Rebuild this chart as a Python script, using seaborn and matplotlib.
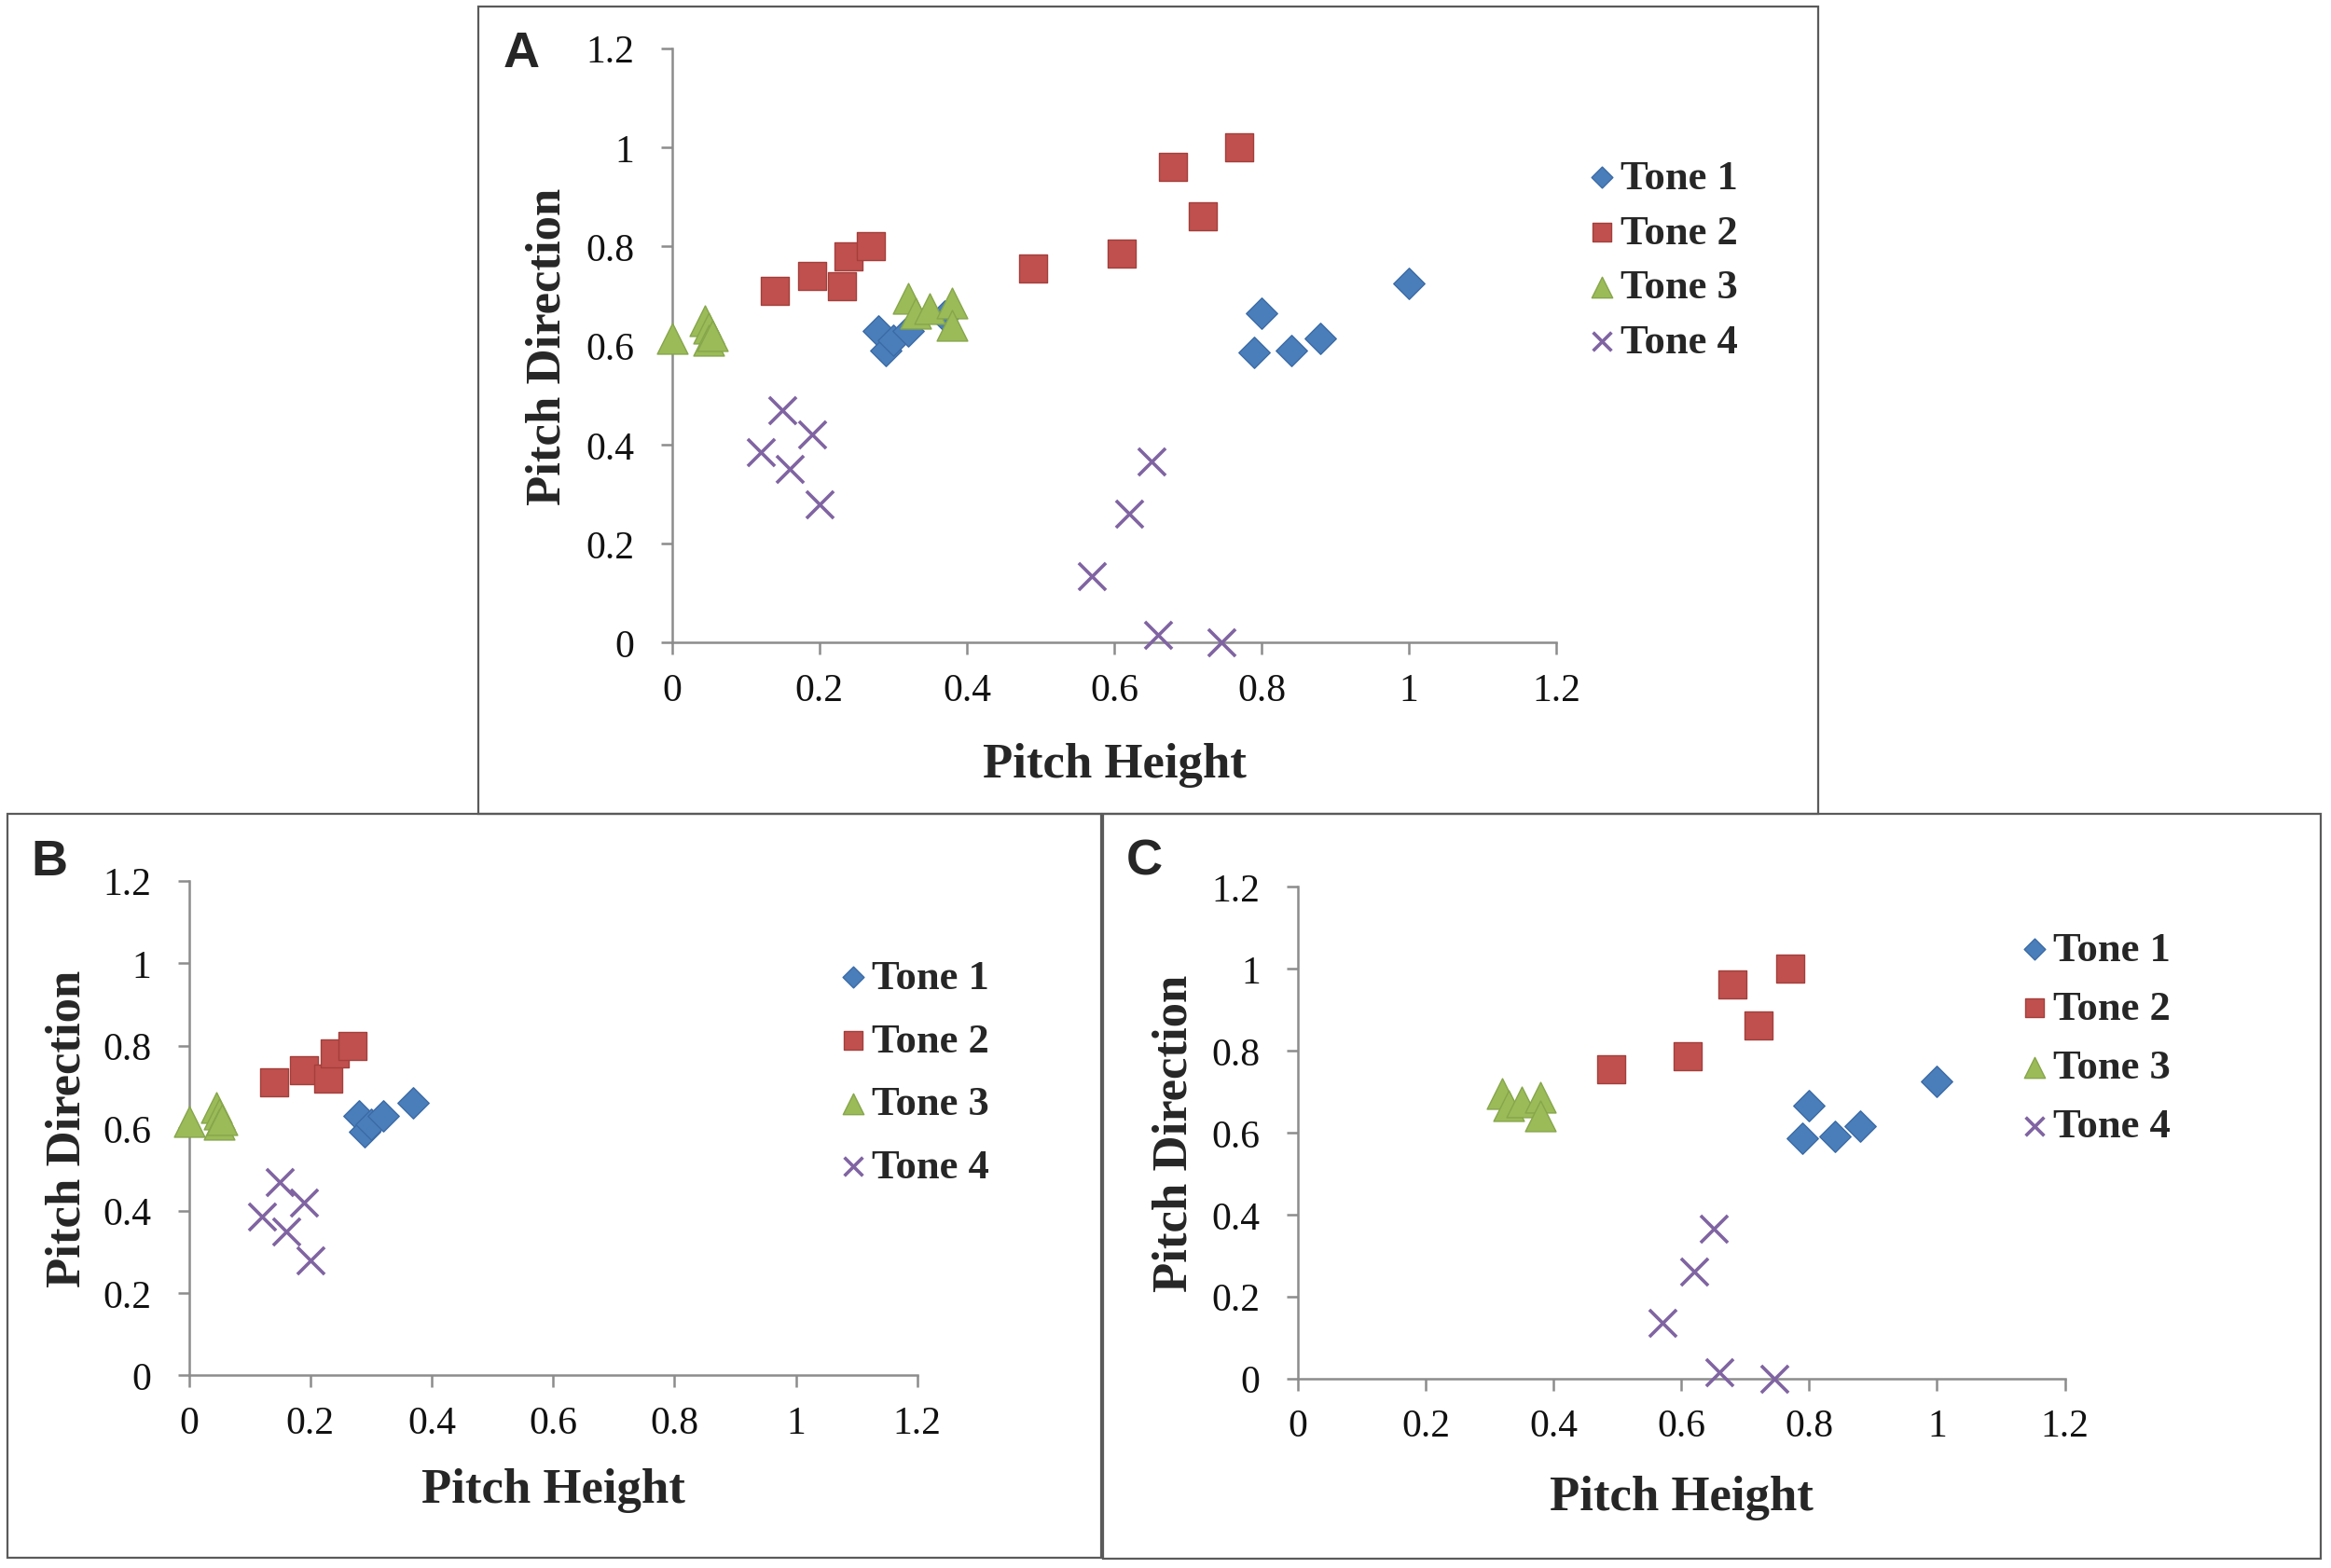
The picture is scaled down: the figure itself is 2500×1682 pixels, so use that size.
import pandas as pd
import matplotlib.pyplot as plt
import seaborn as sns
from matplotlib.patches import Rectangle

# ==========================================
# Data
# ==========================================
tones = ["Tone 1", "Tone 2", "Tone 3", "Tone 4"]

# subset B (panel B), subset C (panel C); panel A shows both
tone1_b_x = [0.28, 0.29, 0.30, 0.32, 0.37]
tone1_b_y = [0.63, 0.59, 0.61, 0.63, 0.66]
tone1_c_x = [0.79, 0.80, 0.84, 0.88, 1.00]
tone1_c_y = [0.585, 0.665, 0.59, 0.615, 0.725]

tone2_b_x = [0.14, 0.19, 0.23, 0.24, 0.27]
tone2_b_y = [0.71, 0.74, 0.72, 0.78, 0.80]
tone2_c_x = [0.49, 0.61, 0.68, 0.72, 0.77]
tone2_c_y = [0.755, 0.785, 0.96, 0.86, 1.00]

tone3_b_x = [0.0, 0.045, 0.05, 0.05, 0.055]
tone3_b_y = [0.615, 0.65, 0.635, 0.61, 0.62]
tone3_c_x = [0.32, 0.33, 0.35, 0.38, 0.38]
tone3_c_y = [0.695, 0.665, 0.675, 0.685, 0.64]

tone4_b_x = [0.12, 0.15, 0.16, 0.19, 0.20]
tone4_b_y = [0.385, 0.47, 0.35, 0.42, 0.28]
tone4_c_x = [0.57, 0.62, 0.65, 0.66, 0.745]
tone4_c_y = [0.135, 0.26, 0.365, 0.015, 0.0]

tick_values = [0, 0.2, 0.4, 0.6, 0.8, 1.0, 1.2]
tick_labels = ["0", "0.2", "0.4", "0.6", "0.8", "1", "1.2"]

# ==========================================
# Build table
# ==========================================
series = [
    ("Tone 1", "B", tone1_b_x, tone1_b_y),
    ("Tone 1", "C", tone1_c_x, tone1_c_y),
    ("Tone 2", "B", tone2_b_x, tone2_b_y),
    ("Tone 2", "C", tone2_c_x, tone2_c_y),
    ("Tone 3", "B", tone3_b_x, tone3_b_y),
    ("Tone 3", "C", tone3_c_x, tone3_c_y),
    ("Tone 4", "B", tone4_b_x, tone4_b_y),
    ("Tone 4", "C", tone4_c_x, tone4_c_y),
]

frames = []
for tone, group, xs, ys in series:
    frames.append(pd.DataFrame({
        "tone": tone,
        "group": group,
        "height": xs,
        "direction": ys,
    }))
data = pd.concat(frames, ignore_index=True)

# marker style per tone: marker, face colour, edge colour, size
styles = {
    "Tone 1": ("D", "#4A7EBB", "#3B6BA6", 290),
    "Tone 2": ("s", "#C0504D", "#A33F3C", 470),
    "Tone 3": ("^", "#9BBB59", "#86A64A", 560),
    "Tone 4": ("x", "#8064A2", "#8064A2", 440),
}

# ==========================================
# Figure
# ==========================================
sns.set_theme(style="white")
plt.rcParams["font.family"] = ["Liberation Serif", "DejaVu Serif"]

fig = plt.figure(figsize=(25, 16.83), dpi=100)

# panel frames (figure fractions)
boxes = [
    (0.205, 0.4807, 0.780, 0.9952),
    (0.0032, 0.0065, 0.4724, 0.4807),
    (0.4732, 0.0059, 0.9956, 0.4807),
]
for x0, y0, x1, y1 in boxes:
    fig.add_artist(Rectangle(
        (x0, y0), x1 - x0, y1 - y0,
        transform=fig.transFigure,
        fill=False,
        edgecolor="#5a5a5a",
        linewidth=1.6
    ))

panels = [
    # letter, groups, axes rect, letter pos, legend anchor, labelspacing, xlabel y, ylabel x
    ("A", ["B", "C"], [0.2883, 0.5898, 0.3794, 0.3789], (0.2236, 0.9655),
     (0.6818, 0.8980), 0.42, -0.205, -0.141),
    ("B", ["B"], [0.0810, 0.1227, 0.3125, 0.3155], (0.0210, 0.4505),
     (0.3606, 0.3880), 0.62, -0.231, -0.167),
    ("C", ["C"], [0.5568, 0.1208, 0.3290, 0.3136], (0.4910, 0.4505),
     (0.8673, 0.4060), 0.52, -0.242, -0.161),
]

for letter, groups, rect, letter_pos, leg_pos, spacing, xlab_y, ylab_x in panels:

    ax = fig.add_axes(rect)
    subset = data[data["group"].isin(groups)]

    for tone in tones:
        marker, face, edge, size = styles[tone]
        part = subset[subset["tone"] == tone]
        sns.scatterplot(
            data=part,
            x="height",
            y="direction",
            marker=marker,
            color=face,
            edgecolor=edge,
            s=size,
            linewidth=2.6 if marker == "x" else 1,
            label=tone,
            clip_on=False,
            zorder=3,
            ax=ax
        )

    ax.set_xlim(0, 1.2)
    ax.set_ylim(0, 1.2)
    ax.set_xticks(tick_values)
    ax.set_xticklabels(tick_labels)
    ax.set_yticks(tick_values)
    ax.set_yticklabels(tick_labels)

    sns.despine(ax=ax)
    for side in ["left", "bottom"]:
        ax.spines[side].set_color("#8c8c8c")
        ax.spines[side].set_linewidth(1.8)

    ax.tick_params(
        axis="both",
        direction="out",
        length=9,
        width=1.8,
        color="#8c8c8c",
        labelsize=30,
        labelcolor="#111111",
        left=True,
        bottom=True
    )
    ax.tick_params(axis="x", pad=14)
    ax.tick_params(axis="y", pad=20)

    ax.set_xlabel("Pitch Height", fontsize=38, fontweight="bold")
    ax.set_ylabel("Pitch Direction", fontsize=38, fontweight="bold")
    ax.xaxis.set_label_coords(0.5, xlab_y)
    ax.yaxis.set_label_coords(ylab_x, 0.5)
    ax.xaxis.label.set_va("center")
    ax.yaxis.label.set_va("center")

    ax.legend(
        loc="upper left",
        bbox_to_anchor=leg_pos,
        bbox_transform=fig.transFigure,
        frameon=False,
        prop={"family": "Liberation Serif", "weight": "bold", "size": 32},
        handlelength=0.6,
        handletextpad=0.15,
        labelspacing=spacing,
        borderpad=0,
        borderaxespad=0,
        markerscale=0.68
    )

    fig.text(
        letter_pos[0], letter_pos[1], letter,
        family="Liberation Sans",
        fontweight="bold",
        fontsize=39,
        ha="center",
        va="center"
    )

fig.savefig("out.png", dpi=100, facecolor="white")
plt.close(fig)
